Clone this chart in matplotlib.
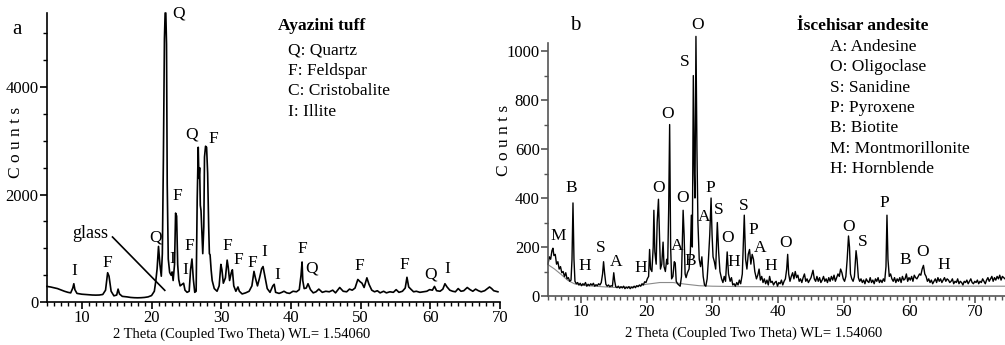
import matplotlib
matplotlib.use("Agg")
import matplotlib.pyplot as plt
from matplotlib.ticker import MultipleLocator, FixedLocator

plt.rcParams["font.family"] = ["Liberation Serif", "DejaVu Serif"]

W, H = 1005, 345

# ---- data: (2theta, counts) ----
tuff_pattern = [
    (5.0, 290), (5.5, 280), (6.0, 265), (6.5, 250), (7.0, 225), (7.5, 200), (8.0, 180),
    (8.4, 170), (8.7, 260), (8.85, 340), (9.0, 230), (9.3, 160), (10.0, 145), (10.5, 140),
    (11.0, 135), (11.5, 130), (12.0, 128), (12.5, 130), (13.0, 140), (13.4, 220), (13.7, 545),
    (13.9, 480), (14.2, 200), (14.6, 115), (15.0, 130), (15.2, 240), (15.4, 150), (15.8, 105),
    (16.5, 95), (17.0, 85), (17.5, 80), (18.0, 78), (18.5, 80), (19.0, 85), (19.5, 95),
    (20.0, 120), (20.4, 200), (20.6, 380), (20.8, 620), (21.0, 1035), (21.2, 700), (21.4, 480),
    (21.55, 900), (21.7, 2650), (21.85, 4900), (21.95, 5380), (22.05, 5380), (22.15, 4800),
    (22.25, 2200), (22.4, 800), (22.6, 550), (22.8, 500), (22.95, 560), (23.1, 400),
    (23.3, 700), (23.45, 1655), (23.6, 1600), (23.75, 700), (23.9, 420), (24.1, 300),
    (24.4, 330), (24.6, 350), (24.8, 220), (25.1, 180), (25.4, 200), (25.6, 600), (25.8, 800),
    (26.0, 420), (26.2, 180), (26.4, 200), (26.55, 1900), (26.7, 2880), (26.8, 2300),
    (26.9, 2500), (27.0, 1800), (27.1, 1700), (27.25, 1200), (27.35, 900), (27.5, 1400),
    (27.6, 2700), (27.75, 2900), (27.9, 2880), (28.05, 2400), (28.2, 1400), (28.3, 900),
    (28.4, 880), (28.55, 600), (28.7, 400), (29.0, 250), (29.4, 200), (29.7, 300),
    (29.95, 700), (30.1, 600), (30.3, 350), (30.6, 450), (30.85, 780), (31.0, 650),
    (31.2, 400), (31.45, 550), (31.6, 600), (31.8, 300), (32.1, 200), (32.4, 280), (32.6, 200),
    (33.0, 150), (33.5, 170), (34.0, 200), (34.4, 300), (34.7, 570), (34.9, 450), (35.2, 300),
    (35.5, 450), (35.8, 620), (36.0, 660), (36.3, 450), (36.6, 250), (37.0, 180), (37.4, 300),
    (37.6, 330), (37.8, 180), (38.3, 160), (38.7, 180), (39.0, 200), (39.4, 170), (39.8, 160),
    (40.3, 200), (40.8, 190), (41.2, 230), (41.45, 500), (41.6, 745), (41.7, 400), (41.9, 250),
    (42.2, 260), (42.45, 340), (42.8, 230), (43.2, 170), (43.6, 190), (44.0, 240), (44.5, 180),
    (45.0, 200), (45.5, 190), (46.0, 220), (46.4, 170), (47.0, 270), (47.5, 200), (48.0, 190),
    (48.4, 240), (48.8, 220), (49.2, 260), (49.6, 420), (49.9, 380), (50.2, 350), (50.5, 270),
    (50.9, 450), (51.2, 330), (51.6, 220), (52.0, 190), (52.4, 210), (52.8, 170), (53.3, 200),
    (53.7, 170), (54.2, 190), (54.7, 180), (55.1, 230), (55.5, 180), (56.0, 200), (56.4, 260),
    (56.65, 460), (56.9, 280), (57.2, 240), (57.6, 190), (58.0, 200), (58.5, 180), (59.0, 190),
    (59.5, 200), (59.9, 230), (60.3, 220), (60.6, 290), (60.9, 210), (61.4, 200), (61.8, 240),
    (62.1, 340), (62.4, 280), (62.8, 220), (63.2, 200), (63.6, 190), (64.0, 250), (64.4, 200),
    (64.8, 210), (65.3, 270), (65.7, 230), (66.1, 200), (66.5, 240), (66.9, 210), (67.3, 190),
    (67.8, 210), (68.2, 250), (68.5, 280), (68.8, 250), (69.1, 210), (69.4, 200), (69.7, 190),
]

andesite_pattern = [
    (5.0, 130), (5.2, 160), (5.4, 150), (5.6, 185), (5.75, 195), (5.9, 165), (6.1, 170),
    (6.3, 130), (6.5, 140), (6.7, 110), (6.9, 120), (7.1, 95), (7.3, 100), (7.5, 80),
    (7.7, 95), (7.9, 70), (8.1, 75), (8.3, 60), (8.5, 65), (8.65, 150), (8.8, 380),
    (8.95, 150), (9.1, 60), (9.3, 50), (9.5, 55), (9.7, 45), (9.9, 52), (10.1, 42), (10.3, 50),
    (10.5, 45), (10.7, 55), (10.9, 40), (11.1, 48), (11.3, 42), (11.5, 50), (11.7, 44),
    (11.9, 52), (12.1, 40), (12.3, 46), (12.5, 42), (12.7, 50), (12.9, 45), (13.1, 55),
    (13.3, 90), (13.45, 140), (13.6, 95), (13.8, 48), (14.0, 40), (14.2, 45), (14.4, 38),
    (14.6, 42), (14.8, 40), (15.0, 95), (15.15, 60), (15.3, 38), (15.5, 34), (15.7, 40),
    (15.9, 32), (16.1, 38), (16.3, 33), (16.5, 40), (16.7, 30), (16.9, 36), (17.1, 32),
    (17.3, 38), (17.5, 30), (17.7, 36), (17.9, 33), (18.1, 40), (18.3, 34), (18.5, 42),
    (18.7, 38), (18.9, 45), (19.1, 40), (19.3, 50), (19.5, 45), (19.7, 58), (19.9, 55),
    (20.1, 70), (20.3, 80), (20.45, 190), (20.6, 110), (20.8, 100), (21.0, 200), (21.1, 350),
    (21.25, 180), (21.45, 130), (21.6, 300), (21.8, 395), (21.95, 260), (22.1, 110),
    (22.3, 130), (22.5, 220), (22.65, 120), (22.85, 100), (23.05, 150), (23.2, 130),
    (23.35, 350), (23.5, 700), (23.65, 200), (23.8, 70), (24.0, 80), (24.2, 140), (24.35, 135),
    (24.5, 60), (24.7, 50), (24.9, 45), (25.1, 40), (25.3, 80), (25.55, 350), (25.7, 250),
    (25.85, 90), (26.0, 75), (26.2, 95), (26.45, 110), (26.65, 180), (26.8, 330), (26.95, 200),
    (27.1, 900), (27.25, 500), (27.35, 400), (27.5, 1060), (27.65, 600), (27.8, 300),
    (28.0, 150), (28.2, 120), (28.4, 160), (28.6, 80), (28.8, 45), (29.0, 40), (29.2, 70),
    (29.4, 150), (29.6, 250), (29.8, 400), (29.95, 250), (30.1, 160), (30.3, 140), (30.5, 110),
    (30.75, 300), (30.95, 180), (31.15, 100), (31.4, 70), (31.6, 55), (31.8, 80), (32.0, 60),
    (32.25, 180), (32.45, 90), (32.7, 60), (32.9, 75), (33.1, 45), (33.3, 50), (33.5, 40),
    (33.7, 55), (33.9, 45), (34.1, 65), (34.3, 50), (34.55, 90), (34.85, 330), (35.05, 150),
    (35.25, 110), (35.45, 170), (35.65, 190), (35.85, 130), (36.05, 170), (36.25, 150),
    (36.45, 100), (36.7, 70), (36.9, 85), (37.1, 110), (37.3, 65), (37.5, 80), (37.7, 55),
    (37.9, 70), (38.1, 50), (38.3, 65), (38.5, 45), (38.7, 80), (38.9, 55), (39.1, 60),
    (39.3, 45), (39.5, 55), (39.7, 60), (39.9, 40), (40.1, 55), (40.3, 50), (40.5, 65),
    (40.7, 45), (40.9, 60), (41.1, 70), (41.3, 110), (41.45, 170), (41.6, 90), (41.8, 60),
    (42.0, 80), (42.2, 95), (42.4, 70), (42.6, 100), (42.8, 75), (43.0, 85), (43.2, 60),
    (43.4, 70), (43.6, 55), (43.8, 75), (44.0, 90), (44.2, 60), (44.4, 70), (44.6, 55),
    (44.8, 65), (45.0, 75), (45.3, 105), (45.5, 70), (45.7, 60), (45.9, 80), (46.1, 60),
    (46.3, 75), (46.5, 55), (46.7, 65), (46.9, 80), (47.1, 60), (47.3, 70), (47.5, 55),
    (47.7, 75), (47.9, 60), (48.1, 80), (48.3, 65), (48.5, 85), (48.7, 60), (48.9, 75),
    (49.1, 90), (49.3, 80), (49.5, 110), (49.7, 95), (49.9, 70), (50.1, 60), (50.3, 80),
    (50.5, 150), (50.7, 245), (50.85, 200), (51.0, 90), (51.2, 70), (51.4, 60), (51.6, 80),
    (51.85, 185), (52.0, 150), (52.2, 75), (52.4, 60), (52.6, 70), (52.8, 55), (53.0, 65),
    (53.2, 50), (53.4, 70), (53.6, 60), (53.8, 55), (54.0, 75), (54.2, 55), (54.4, 65),
    (54.6, 50), (54.8, 70), (55.0, 60), (55.2, 75), (55.4, 55), (55.6, 65), (55.8, 55),
    (56.0, 70), (56.2, 60), (56.4, 120), (56.55, 330), (56.7, 150), (56.9, 80), (57.1, 90),
    (57.3, 70), (57.5, 60), (57.7, 75), (57.9, 55), (58.1, 70), (58.3, 60), (58.5, 75),
    (58.7, 55), (58.9, 80), (59.1, 65), (59.3, 70), (59.5, 90), (59.7, 60), (59.9, 75),
    (60.1, 65), (60.3, 80), (60.5, 60), (60.7, 85), (60.9, 75), (61.1, 70), (61.3, 80),
    (61.5, 90), (61.7, 85), (61.9, 110), (62.1, 125), (62.3, 90), (62.5, 80), (62.7, 60),
    (62.9, 70), (63.1, 55), (63.3, 65), (63.5, 50), (63.7, 60), (63.9, 70), (64.1, 55),
    (64.3, 75), (64.5, 60), (64.7, 70), (64.9, 55), (65.1, 65), (65.3, 75), (65.5, 60),
    (65.7, 70), (65.9, 65), (66.1, 55), (66.3, 60), (66.5, 70), (66.7, 50), (66.9, 60),
    (67.1, 55), (67.3, 70), (67.5, 50), (67.7, 60), (67.9, 55), (68.1, 45), (68.3, 60),
    (68.5, 55), (68.7, 65), (68.9, 50), (69.1, 60), (69.3, 70), (69.5, 55), (69.7, 50),
    (69.9, 60), (70.1, 55), (70.3, 65), (70.5, 50), (70.7, 60), (70.9, 55), (71.1, 70),
    (71.3, 60), (71.5, 50), (71.7, 65), (71.9, 75), (72.1, 60), (72.3, 70), (72.5, 80),
    (72.7, 60), (72.9, 75), (73.1, 65), (73.3, 80), (73.5, 70), (73.7, 85), (73.9, 65),
    (74.1, 80), (74.3, 75), (74.5, 70),
]

andesite_background = [
    (5.0, 128), (6.0, 110), (7.0, 88), (8.0, 64), (9.0, 50), (10.0, 44), (12.0, 40),
    (15.0, 35), (18.0, 38), (20.0, 48), (22.0, 55), (24.0, 55), (26.0, 48), (28.0, 42),
    (30.0, 40), (35.0, 38), (45.0, 38), (55.0, 39), (65.0, 40), (74.5, 40),
]

# peak labels: (letter, 2theta, counts)
tuff_labels = [
    ("Q", 23.9, 5380), ("I", 8.9, 570), ("F", 13.7, 725), ("Q", 20.6, 1210), ("I", 23.0, 800),
    ("F", 23.65, 1965), ("I", 24.8, 590), ("F", 25.4, 1050), ("Q", 25.7, 3110), ("F", 28.9, 3030),
    ("F", 30.9, 1035), ("F", 32.5, 787), ("F", 34.4, 725), ("I", 36.15, 930), ("I", 38.0, 510),
    ("F", 41.7, 985), ("Q", 42.9, 630), ("F", 49.8, 675), ("F", 56.25, 695), ("Q", 60.1, 510),
    ("I", 62.5, 615),
]
andesite_labels = [
    ("O", 27.7, 1105), ("S", 25.8, 955), ("O", 23.2, 742), ("B", 8.6, 442), ("M", 6.55, 245),
    ("H", 10.6, 124), ("S", 13.0, 194), ("A", 15.4, 140), ("H", 19.1, 116), ("O", 21.8, 439),
    ("A", 24.6, 205), ("O", 25.5, 402), ("B", 26.6, 143), ("P", 29.65, 442), ("A", 28.7, 323),
    ("S", 31.0, 351), ("O", 32.3, 238), ("H", 33.2, 137), ("S", 34.8, 368), ("P", 36.2, 269),
    ("A", 37.3, 194), ("H", 38.9, 124), ("O", 41.2, 217), ("O", 50.65, 283), ("S", 52.9, 222),
    ("P", 56.1, 378), ("B", 59.3, 147), ("O", 61.9, 181), ("H", 65.2, 126),
]

tuff_title = "Ayazini tuff"
tuff_legend = ["Q: Quartz", "F: Feldspar", "C: Cristobalite", "I: Illite"]
andesite_title = "İscehisar andesite"
andesite_legend = ["A: Andesine", "O: Oligoclase", "S: Sanidine", "P: Pyroxene",
                   "B: Biotite", "M: Montmorillonite", "H: Hornblende"]
xlabel = "2 Theta (Coupled Two Theta) WL= 1.54060"


def fx(x):
    return x / W


def fy(y):
    return 1 - y / H


def style_axes(ax, color, xminor, ymajor, yminor):
    for s in ["top", "right"]:
        ax.spines[s].set_visible(False)
    for s in ["left", "bottom"]:
        ax.spines[s].set_color(color)
        ax.spines[s].set_linewidth(1.2)
    ax.xaxis.set_major_locator(MultipleLocator(10))
    ax.xaxis.set_minor_locator(MultipleLocator(xminor))
    ax.yaxis.set_major_locator(FixedLocator(ymajor))
    ax.yaxis.set_minor_locator(MultipleLocator(yminor))
    ax.tick_params(which="major", direction="out", length=5, width=1.2, color=color,
                   labelsize=12, pad=1)
    ax.tick_params(which="minor", direction="out", length=3, width=1, color=color)


fig = plt.figure(figsize=(W / 100, H / 100), dpi=100)

# ---- panel a ----
ax1 = fig.add_axes([fx(47), fy(302), fx(453), 289 / H])
t1 = [p[0] for p in tuff_pattern]
c1 = [p[1] for p in tuff_pattern]
ax1.plot(t1, c1, color="black", lw=1.2, clip_on=False)
ax1.set_xlim(5, 70)
ax1.set_ylim(0, 5380)
style_axes(ax1, "black", 1, [0, 2000, 4000], 500)
for s, t, c in tuff_labels:
    ax1.text(t, c, s, ha="center", va="center", fontsize=12.5, clip_on=False)
ax1.text(11.2, 1283, "glass", ha="center", va="center", fontsize=13)
ax1.plot([14.4, 21.9], [1210, 217], color="black", lw=1.2)

fig.text(fx(17), fy(29), "a", fontsize=15, ha="center", va="center")
fig.text(fx(278), fy(26), tuff_title, fontsize=12.5, fontweight="bold", ha="left", va="center")
for i, s in enumerate(tuff_legend):
    fig.text(fx(288), fy(50.5 + i * 20.4), s, fontsize=12.5, ha="left", va="center")
fig.text(fx(242), fy(334), xlabel, fontsize=10.5, ha="center", va="center")
fig.text(fx(16), fy(142), "C o u n t s", fontsize=12.5, rotation=90, ha="center", va="center")

# ---- panel b ----
ax2 = fig.add_axes([fx(548), fy(296), fx(457), 253 / H])
t2 = [p[0] for p in andesite_pattern]
c2 = [p[1] for p in andesite_pattern]
tb = [p[0] for p in andesite_background]
cb = [p[1] for p in andesite_background]
ax2.plot(tb, cb, color="#8a8a8a", lw=0.8)
ax2.plot(t2, c2, color="black", lw=1.0, clip_on=False)
ax2.set_xlim(5, 74.5)
ax2.set_ylim(0, 1033)
style_axes(ax2, "#555555", 1, [0, 200, 400, 600, 800, 1000], 100)
for s, t, c in andesite_labels:
    ax2.text(t, c, s, ha="center", va="center", fontsize=12.5, clip_on=False)

fig.text(fx(575), fy(25), "b", fontsize=15, ha="center", va="center")
fig.text(fx(797), fy(26), andesite_title, fontsize=12.5, fontweight="bold", ha="left", va="center")
for i, s in enumerate(andesite_legend):
    fig.text(fx(830), fy(46.7 + i * 20.4), s, fontsize=12.5, ha="left", va="center")
fig.text(fx(754), fy(333), xlabel, fontsize=10.5, ha="center", va="center")
fig.text(fx(504), fy(140), "C o u n t s", fontsize=12.5, rotation=90, ha="center", va="center")

fig.savefig("out.png", dpi=100)
